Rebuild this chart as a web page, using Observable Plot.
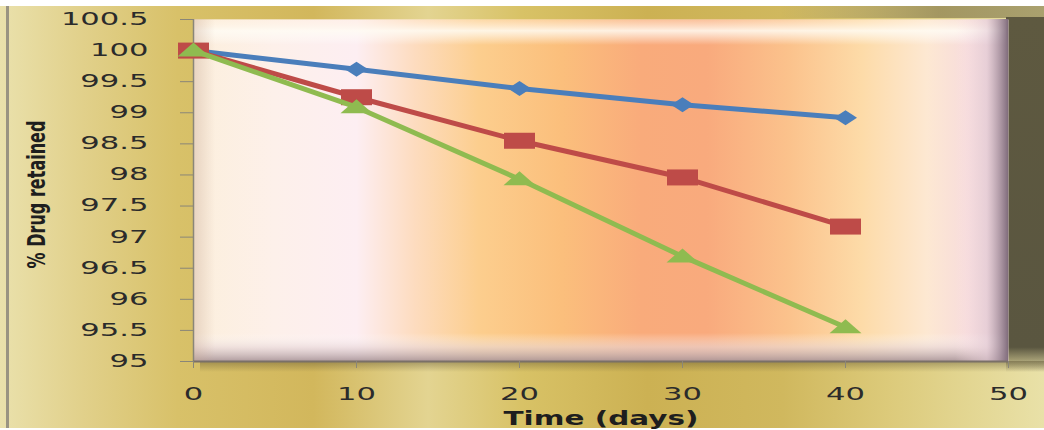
<!DOCTYPE html>
<html>
<head>
<meta charset="utf-8">
<script src="https://cdn.jsdelivr.net/npm/d3@7"></script>
<script src="https://cdn.jsdelivr.net/npm/@observablehq/plot@0.6"></script>
<style>
  html, body { margin: 0; padding: 0; background: #ffffff; }
  #chart svg { display: block; }
</style>
</head>
<body>
<div id="chart"></div>
<script>
// Sampling days
const days = [0, 10, 20, 30, 40];
// % drug retained for each formulation
const seriesNames = ["F1", "F2", "F3"];
const retainedF1 = [100, 99.70, 99.39, 99.13, 98.92];
const retainedF2 = [100, 99.25, 98.55, 97.96, 97.17];
const retainedF3 = [100, 99.09, 97.93, 96.69, 95.55];
// Axis ticks
const yTicks = [95, 95.5, 96, 96.5, 97, 97.5, 98, 98.5, 99, 99.5, 100, 100.5];
const xTicks = [0, 10, 20, 30, 40, 50];
const xLabel = "Time (days)";
const yLabel = "% Drug retained";

const seriesValues = [retainedF1, retainedF2, retainedF3];
const rows = seriesNames.map((name, i) =>
  days.map((d, j) => ({series: name, day: d, value: seriesValues[i][j]}))
);

// Wide marker shapes
const diamond = {draw(ctx) { ctx.moveTo(0, -7.5); ctx.lineTo(11.5, 0); ctx.lineTo(0, 7.5); ctx.lineTo(-11.5, 0); ctx.closePath(); }};
const square = {draw(ctx) { ctx.rect(-15.5, -8, 31, 16); }};
const triangle = {draw(ctx) { ctx.moveTo(0, -8); ctx.lineTo(16, 6); ctx.lineTo(-16, 6); ctx.closePath(); }};
const symbols = [diamond, square, triangle];
const colors = ["#4a7ebb", "#be4b48", "#8fbb50"];

const seriesMarks = rows.flatMap((data, i) => [
  Plot.line(data, {x: "day", y: "value", stroke: colors[i], strokeWidth: 5, strokeLinejoin: "round"}),
  Plot.dot(data, {x: "day", y: "value", symbol: symbols[i], fill: colors[i], stroke: "none", r: 5})
]);

const axisColor = "#8a8678";

const chart = Plot.plot({
  width: 1044,
  height: 430,
  marginLeft: 193,
  marginRight: 36,
  marginTop: 19,
  marginBottom: 69,
  style: {fontFamily: "DejaVu Sans, Verdana, sans-serif", fontSize: "17px", color: "#2b2b2b", background: "transparent", overflow: "visible"},
  x: {domain: [0, 50]},
  y: {domain: [95, 100.5]},
  marks: [
    Plot.frame({fill: "url(#panelFill)", stroke: null}),
    Plot.ruleX([0], {stroke: axisColor, strokeWidth: 1.5}),
    Plot.ruleY([95], {stroke: "#7a7068", strokeWidth: 2}),
    Plot.axisY({ticks: yTicks, tickSize: 13, tickPadding: 32, tickFormat: d => String(d), stroke: axisColor, label: null}),
    Plot.axisX({ticks: xTicks, tickSize: 7, tickPadding: 19, tickFormat: d => String(d), stroke: axisColor, label: null}),
    ...seriesMarks,
    Plot.text([xLabel], {frameAnchor: "bottom", lineAnchor: "middle", dy: 57, fontWeight: "bold", fontSize: 20, fill: "#1e1e1e", className: "xlab"}),
    Plot.text([yLabel], {frameAnchor: "left", dx: -156, dy: 78, rotate: -90, textAnchor: "start", fontWeight: "bold", fontSize: 24, fill: "#1e1e1e", fontFamily: "Liberation Sans Narrow, DejaVu Sans Condensed, sans-serif", className: "ylab"})
  ]
});

document.getElementById("chart").appendChild(chart);

// ---- decoration: gold backdrop, bevelled panel ----
const svg = d3.select(chart);
const defs = svg.insert("defs", ":first-child");

function linGrad(id, horizontal, stops) {
  const g = defs.append("linearGradient").attr("id", id)
    .attr("x1", 0).attr("y1", 0).attr("x2", horizontal ? 1 : 0).attr("y2", horizontal ? 0 : 1);
  stops.forEach(([o, c, a = 1]) => g.append("stop").attr("offset", o).attr("stop-color", c).attr("stop-opacity", a));
}

linGrad("goldFill", true, [
  [0, "#eae1ac"], [0.08, "#e1d08a"], [0.17, "#d8c169"], [0.3, "#d2b75c"], [0.41, "#e3d491"],
  [0.5, "#d8c266"], [0.62, "#ccb153"], [0.75, "#d0b85e"], [0.85, "#dcca7a"], [1, "#e9e1a8"]
]);
linGrad("panelFill", true, [
  [0, "#fcefdc"], [0.1, "#fdf0ea"], [0.2, "#fdeef2"], [0.27, "#fddcc0"], [0.35, "#fcce8e"],
  [0.45, "#fbbf7c"], [0.55, "#f9ab7b"], [0.63, "#f9aa7d"], [0.73, "#fbc28c"], [0.82, "#fddba8"],
  [0.9, "#fde8d2"], [0.95, "#f7dcdc"], [1, "#d8c4cc"]
]);
linGrad("darkSide", false, [[0, "#5e5940"], [0.93, "#5a5640"], [1, "#5a5640", 0]]);
linGrad("topBand", true, [[0, "#8a7e50", 0], [0.6, "#8a7e50", 0.7], [1, "#a39a68", 0.9]]);
linGrad("shadowBelow", false, [[0, "#5a5030", 0.45], [1, "#5a5030", 0]]);
linGrad("bevelTop", false, [[0, "#fff0dc", 0.3], [0.45, "#fffcf4", 0.85], [1, "#ffffff", 0]]);
linGrad("bevelBottom", false, [[0, "#ffffff", 0], [0.5, "#e6d6d8", 0.6], [1, "#a89498", 0.9]]);
linGrad("bevelRight", true, [[0, "#ffe6ea", 0], [0.6, "#e6cdd8", 0.6], [1, "#7c6878", 0.95]]);
linGrad("bevelLeft", true, [[0, "#c8a896", 0.4], [1, "#c8a896", 0]]);

// backdrop behind everything
const back = svg.insert("g", "defs + *");
back.append("rect").attr("x", 0).attr("y", 6).attr("width", 1044).attr("height", 422).attr("fill", "url(#goldFill)");
back.append("rect").attr("x", 780).attr("y", 6).attr("width", 264).attr("height", 12).attr("fill", "url(#topBand)");
back.append("rect").attr("x", 1006).attr("y", 17).attr("width", 38).attr("height", 355).attr("fill", "url(#darkSide)");
back.append("rect").attr("x", 200).attr("y", 361).attr("width", 844).attr("height", 11).attr("fill", "url(#shadowBelow)");
back.append("rect").attr("x", 6).attr("y", 6).attr("width", 3).attr("height", 422).attr("fill", "#9a9482");

// bevel overlays just above the panel fill
const frameEl = chart.querySelector('[aria-label="frame"]');
const bevel = d3.create("svg:g");
bevel.append("rect").attr("x", 193).attr("y", 19).attr("width", 813).attr("height", 26).attr("fill", "url(#bevelTop)");
bevel.append("rect").attr("x", 193).attr("y", 333).attr("width", 813).attr("height", 28).attr("fill", "url(#bevelBottom)");
bevel.append("rect").attr("x", 955).attr("y", 19).attr("width", 53).attr("height", 342).attr("fill", "url(#bevelRight)");
bevel.append("rect").attr("x", 193).attr("y", 19).attr("width", 22).attr("height", 342).attr("fill", "url(#bevelLeft)");
frameEl.after(bevel.node());

// widen tick labels horizontally
chart.querySelectorAll('g[aria-label="y-axis tick label"] text, g[aria-label="x-axis tick label"] text').forEach(t => {
  const tr = t.getAttribute("transform") || "";
  t.setAttribute("transform", tr + " scale(1.8,1)");
});
// stretch axis titles to their drawn lengths
const xl = chart.querySelector(".xlab text");
if (xl) { xl.setAttribute("textLength", 195); xl.setAttribute("lengthAdjust", "spacingAndGlyphs"); }
const yl = chart.querySelector(".ylab text");
if (yl) { yl.setAttribute("textLength", 148); yl.setAttribute("lengthAdjust", "spacingAndGlyphs"); }
</script>
</body>
</html>
